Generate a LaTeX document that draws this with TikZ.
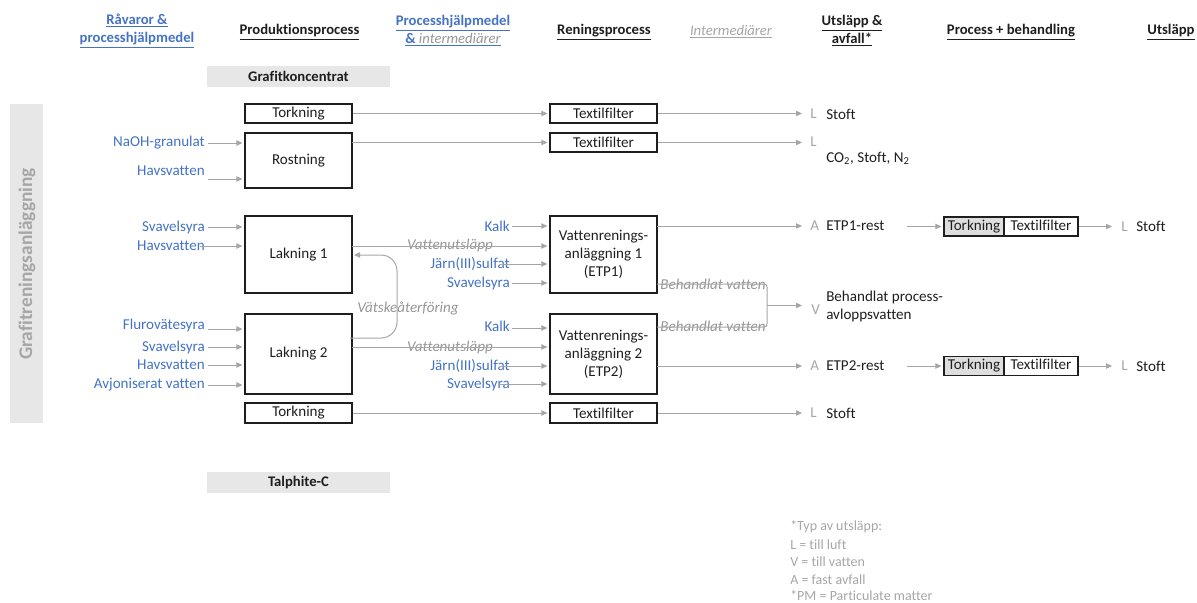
\documentclass[tikz,border=0pt]{standalone}
\usepackage{fontspec}
\setmainfont{Carlito}[Ligatures=NoCommon]
\usetikzlibrary{arrows.meta,calc}
\definecolor{inblue}{RGB}{68,114,196}
\definecolor{lgray}{RGB}{166,166,166}
\definecolor{itgray}{RGB}{150,150,150}
\definecolor{barfill}{RGB}{231,231,231}
\definecolor{cellfill}{RGB}{222,222,222}
\definecolor{txt}{RGB}{30,30,30}
\begin{document}
\begin{tikzpicture}[x=0.75pt,y=-0.75pt,
  base/.style={font=\fontsize{11.3}{13.5}\selectfont, inner sep=0pt, text=txt},
  hdr/.style={base, font=\fontsize{11}{13.5}\selectfont\bfseries, align=center},
  bluelbl/.style={base, text=inblue, anchor=east},
  itlbl/.style={base, text=itgray, font=\fontsize{11.3}{13.5}\selectfont\itshape},
  proc/.style={base, draw=txt, line width=0.8pt, minimum width=80.25pt, align=center},
  bar/.style={base, fill=barfill, font=\fontsize{11}{13.5}\selectfont\bfseries, minimum width=137.25pt, minimum height=15.75pt},
  cell/.style={base, draw=txt, line width=0.8pt, minimum height=14.25pt, text height=7.8pt, text depth=2.3pt},
  conn/.style={draw=lgray, line width=0.75pt},
  arr/.style={conn, -{Triangle[length=4.5pt,width=4pt]}, shorten >=1.5pt},
  typ/.style={base, text=lgray, anchor=west},
  outtxt/.style={base, anchor=west},
  legend/.style={base, text=lgray, anchor=west, font=\fontsize{10.5}{12}\selectfont}
]
\useasboundingbox (0,0) rectangle (1197,603);

% headers
\node[hdr, text=inblue] (h1) at (137,31) {\underline{Råvaror \&}\\\underline{processhjälpmedel}};
\node[hdr] (h2) at (299.5,32) {\underline{Produktionsprocess}};
\node[hdr, text=inblue] (h3) at (453,31) {\underline{Processhjälpmedel}\\\underline{\& \textcolor{itgray}{\mdseries\itshape intermediärer}}};
\node[hdr] (h4) at (604,32) {\underline{Reningsprocess}};
\node[base, text=lgray, font=\fontsize{11}{13.5}\selectfont\itshape] (h5) at (731,32) {\underline{Intermediärer}};
\node[hdr] (h6) at (852,31) {\underline{Utsläpp \&}\\\underline{avfall*}};
\node[hdr] (h7) at (1011,32) {\underline{Process + behandling}};
\node[hdr] (h8) at (1171,32) {\underline{Utsläpp}};

% bars
\node[bar] (gk) at (298.5,76.5) {Grafitkoncentrat};
\node[bar] (tc) at (298.5,482.5) {Talphite-C};
\node[base, fill=barfill, minimum width=24.75pt, minimum height=239.25pt] (vb) at (26.5,263.5) {};
\node[base, text=lgray, font=\fontsize{14.5}{16}\selectfont\bfseries, rotate=90] (vbt) at (27,264) {Grafitreningsanläggning};

% production boxes
\node[proc, minimum height=14.25pt] (tork1) at (298.5,113.5) {Torkning};
\node[proc, minimum height=41.25pt] (rost) at (298.5,160.5) {Rostning};
\node[proc, minimum height=57.75pt] (lak1) at (298.5,254.5) {Lakning 1};
\node[proc, minimum height=60pt] (lak2) at (298.5,354) {Lakning 2};
\node[proc, minimum height=15pt] (tork2) at (298.5,413) {Torkning};

% cleaning boxes
\node[proc, minimum height=14.25pt] (tf1) at (603.5,113.5) {Textilfilter};
\node[proc, minimum height=14.25pt] (tf2) at (603.5,142.5) {Textilfilter};
\node[proc, minimum height=57.75pt] (etp1) at (603.5,254.5) {Vattenrenings-\\anläggning 1\\(ETP1)};
\node[proc, minimum height=60pt] (etp2) at (603.5,354) {Vattenrenings-\\anläggning 2\\(ETP2)};
\node[proc, minimum height=15pt] (tf3) at (603.5,413) {Textilfilter};

% raw material inputs
\node[bluelbl] (in1) at (205,143) {NaOH-granulat};
\node[bluelbl] (in2) at (205,171) {Havsvatten};
\node[bluelbl] (in3) at (205,227) {Svavelsyra};
\node[bluelbl] (in4) at (205,246) {Havsvatten};
\node[bluelbl] (in5) at (205,325) {Flurovätesyra};
\node[bluelbl] (in6) at (205,347) {Svavelsyra};
\node[bluelbl] (in7) at (205,365) {Havsvatten};
\node[bluelbl] (in8) at (205,385) {Avjoniserat vatten};
\coordinate (a1) at (208,143);
\coordinate (a2) at (208,179);
\coordinate (a3) at (208,227);
\coordinate (a4) at (200,246);
\coordinate (a5) at (208,329);
\coordinate (a6) at (208,347);
\coordinate (a7) at (208,365);
\coordinate (a8) at (208,385);
\draw[arr] (a1) -- (a1 -| rost.west);
\draw[arr] (a2) -- (a2 -| rost.west);
\draw[arr] (a3) -- (a3 -| lak1.west);
\draw[arr] (a4) -- (a4 -| lak1.west);
\draw[arr] (a5) -- (a5 -| lak2.west);
\draw[arr] (a6) -- (a6 -| lak2.west);
\draw[arr] (a7) -- (a7 -| lak2.west);
\draw[arr] (a8) -- (a8 -| lak2.west);

% ETP inputs
\node[bluelbl] (k1) at (510,226) {Kalk};
\node[bluelbl] (j1) at (510,264) {Järn(III)sulfat};
\node[bluelbl] (s1) at (510,283) {Svavelsyra};
\node[bluelbl] (k2) at (510,326) {Kalk};
\node[bluelbl] (j2) at (510,366) {Järn(III)sulfat};
\node[bluelbl] (s2) at (510,384) {Svavelsyra};
\coordinate (b1) at (512,226);
\coordinate (b2) at (500,264);
\coordinate (b3) at (512,283);
\coordinate (b4) at (512,328);
\coordinate (b5) at (500,366);
\coordinate (b6) at (500,384);
\draw[arr] (b1) -- (b1 -| etp1.west);
\draw[arr] (b2) -- (b2 -| etp1.west);
\draw[arr] (b3) -- (b3 -| etp1.west);
\draw[arr] (b4) -- (b4 -| etp2.west);
\draw[arr] (b5) -- (b5 -| etp2.west);
\draw[arr] (b6) -- (b6 -| etp2.west);

% process water
\node[itlbl] (vu1) at (450,245) {Vattenutsläpp};
\node[itlbl] (vu2) at (450,347) {Vattenutsläpp};
\coordinate (w1) at (352,246);
\coordinate (w2) at (352,347);
\draw[arr] (w1) -- (w1 -| etp1.west);
\draw[arr] (w2) -- (w2 -| etp2.west);

% recirculation
\node[itlbl] (va) at (408,308) {Vätskeåterföring};
\coordinate (r1) at (350,338);
\coordinate (r2) at (352,255);
\draw[arr, rounded corners=12] (r1) -- (397,338) -- (397,255) -- (r2);

% top rows
\draw[arr] (tork1) -- (tf1);
\coordinate (rs) at (352,142.5);
\draw[arr] (rs) -- (tf2.west);
\draw[arr] (tork2) -- (tf3);

\node[typ] (L1) at (810,114) {L};
\node[outtxt] (o1) at (826,114) {Stoft};
\draw[arr] (tf1.east) -- (804,113.5);
\node[typ] (L2) at (810,142) {L};
\node[outtxt] (o2) at (826,158) {CO\textsubscript{2}, Stoft, N\textsubscript{2}};
\draw[arr] (tf2.east) -- (804,142.5);
\node[typ] (L3) at (810,413) {L};
\node[outtxt] (o3) at (826,413) {Stoft};
\draw[arr] (tf3.east) -- (804,413);

% ETP outputs
\coordinate (e1) at (657,226);
\coordinate (e2) at (657,366);
\node[typ] (A1) at (810,226) {A};
\node[outtxt] (r1t) at (826,226) {ETP1-rest};
\node[typ] (A2) at (810,366) {A};
\node[outtxt] (r2t) at (826,366) {ETP2-rest};
\draw[arr] (e1) -- (804,226);
\draw[arr] (e2) -- (804,366);

% treated water
\node[itlbl] (bv1) at (713,284) {Behandlat vatten};
\node[itlbl] (bv2) at (713,326) {Behandlat vatten};
\coordinate (t1) at (657,284);
\coordinate (t2) at (657,327);
\coordinate (tm) at (767,305.5);
\draw[conn, rounded corners=2] (t1) -- (767,284) -- (767,327) -- (t2);
\draw[arr] (tm) -- (804,305.5);
\node[typ] (V1) at (811,310) {V};
\node[outtxt, align=left] (bpv) at (826,306) {Behandlat process-\\avloppsvatten};

% treatment of residues
\node[cell, fill=cellfill, minimum width=45pt] (tk1) at (974,226.5) {Torkning};
\node[cell, minimum width=55.5pt] (tx1) at (1041,226.5) {Textilfilter};
\node[cell, fill=cellfill, minimum width=45pt] (tk2) at (974,366) {Torkning};
\node[cell, minimum width=55.5pt] (tx2) at (1041,366) {Textilfilter};
\coordinate (c1) at (907,226.5);
\coordinate (c2) at (907,366);
\draw[arr] (c1) -- (tk1.west);
\draw[arr] (c2) -- (tk2.west);
\node[typ] (L4) at (1121,226.5) {L};
\node[outtxt] (o4) at (1136,226.5) {Stoft};
\node[typ] (L5) at (1121,366) {L};
\node[outtxt] (o5) at (1136,366) {Stoft};
\draw[arr] (tx1.east) -- (1114,226.5);
\draw[arr] (tx2.east) -- (1114,366);

% legend
\node[legend] (lg1) at (790,527) {*Typ av utsläpp:};
\node[legend] (lg2) at (790,544.5) {L = till luft};
\node[legend] (lg3) at (790,562) {V = till vatten};
\node[legend] (lg4) at (790,579.5) {A = fast avfall};
\node[legend] (lg5) at (790,596) {*PM = Particulate matter};
\end{tikzpicture}
\end{document}
